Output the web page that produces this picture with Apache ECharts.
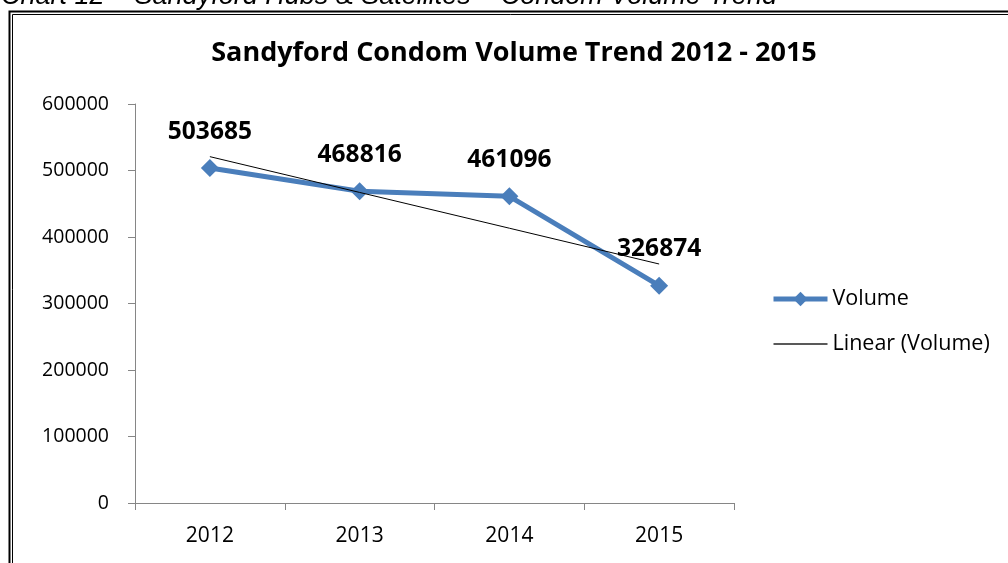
<!DOCTYPE html>
<html>
<head>
<meta charset="utf-8">
<script src="https://cdn.jsdelivr.net/npm/echarts@6/dist/echarts.min.js"></script>
<style>
html,body{margin:0;padding:0;background:#fff;}
#chart{width:1008px;height:563px;}
</style>
</head>
<body>
<div id="chart"></div>
<script>
const captionText = 'Chart 12 – Sandyford Hubs & Satellites – Condom Volume Trend';
const titleText = 'Sandyford Condom Volume Trend 2012 - 2015';
const categories = ['2012', '2013', '2014', '2015'];
const volumeValues = [503685, 468816, 461096, 326874];
// Linear trendline values
const trendValues = [520841, 467025, 413210, 359395];
const yTicks = [0, 100000, 200000, 300000, 400000, 500000, 600000];

const chart = echarts.init(document.getElementById('chart'), null, {renderer: 'canvas'});
const font = '"Open Sans", Lato, sans-serif';
chart.setOption({
  backgroundColor: '#ffffff',
  animation: false,
  title: {
    text: titleText,
    left: 514, top: 40, textAlign: 'center', padding: 0,
    textStyle: {fontFamily: font, fontSize: 27, fontWeight: 'bold', color: '#000'}
  },
  graphic: [
    {type: 'text', left: 1, top: -17, style: {text: captionText, font: 'italic 27px "Liberation Sans", Arial, sans-serif', fill: '#000'}},
    {type: 'rect', shape: {x: 9.5, y: 11.5, width: 1100, height: 700}, style: {fill: null, stroke: '#000', lineWidth: 2}},
    {type: 'rect', shape: {x: 12.5, y: 14.5, width: 1100, height: 700}, style: {fill: null, stroke: '#000', lineWidth: 1}}
  ],
  legend: {
    orient: 'vertical', left: 771, top: 288, itemWidth: 54, itemHeight: 18, itemGap: 23, padding: 0,
    textStyle: {fontFamily: font, fontSize: 21.5, lineHeight: 22, color: '#000'},
    data: [
      {name: 'Volume', lineStyle: {width: 5, color: '#4A7EBB'}, itemStyle: {color: '#4A7EBB'}},
      {name: 'Linear (Volume)', lineStyle: {width: 1.3, color: '#222'}, itemStyle: {opacity: 0}}
    ]
  },
  grid: {left: 135, right: 274, top: 104, bottom: 60},
  xAxis: {
    type: 'category', data: categories, boundaryGap: true,
    axisLine: {lineStyle: {color: '#868686', width: 1}},
    axisTick: {show: true, length: 7, lineStyle: {color: '#868686'}},
    axisLabel: {margin: 23, fontFamily: font, fontSize: 21, color: '#000'}
  },
  yAxis: {
    type: 'value', min: yTicks[0], max: yTicks[yTicks.length - 1], interval: yTicks[1] - yTicks[0],
    axisLine: {show: true, lineStyle: {color: '#868686', width: 1}},
    axisTick: {show: true, length: 7, lineStyle: {color: '#868686'}},
    splitLine: {show: false},
    axisLabel: {margin: 26, fontFamily: font, fontSize: 19.5, color: '#000', formatter: v => String(v)}
  },
  series: [
    {
      name: 'Volume', type: 'line', data: volumeValues,
      symbol: 'diamond', symbolSize: 18,
      lineStyle: {color: '#4A7EBB', width: 5},
      itemStyle: {color: '#4A7EBB'},
      label: {show: true, position: 'top', distance: 15, fontFamily: font, fontSize: 24.5, fontWeight: 'bold', color: '#000'},
      z: 3
    },
    {
      name: 'Linear (Volume)', type: 'line', data: trendValues,
      symbol: 'none', lineStyle: {color: '#000', width: 1},
      itemStyle: {color: '#000'},
      z: 4
    }
  ]
});
</script>
</body>
</html>
